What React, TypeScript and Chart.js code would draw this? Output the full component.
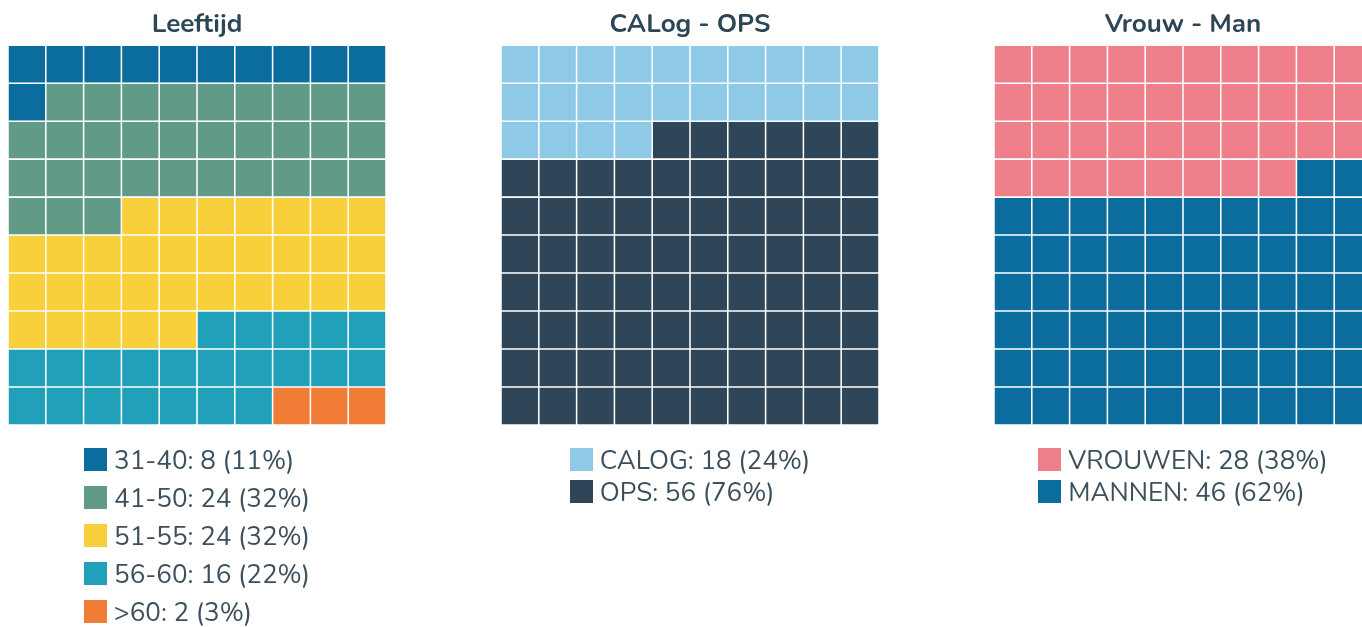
import React, { useEffect, useRef } from "react";
import { Chart, registerables } from "chart.js";

Chart.register(...registerables);

// ---------- data ----------
const ageTitle = "Leeftijd";
const ageLabels = ["31-40", "41-50", "51-55", "56-60", ">60"];
const ageCounts = [8, 24, 24, 16, 2];
const agePercents = [11, 32, 32, 22, 3];
const ageColors = ["#0b6d9e", "#619a86", "#f7d03b", "#21a0ba", "#f07c35"];

const roleTitle = "CALog - OPS";
const roleLabels = ["CALOG", "OPS"];
const roleCounts = [18, 56];
const rolePercents = [24, 76];
const roleColors = ["#8ecae6", "#2e4657"];

const sexTitle = "Vrouw - Man";
const sexLabels = ["VROUWEN", "MANNEN"];
const sexCounts = [28, 46];
const sexPercents = [38, 62];
const sexColors = ["#ef7f8a", "#0b6d9e"];

const GRID_COLS = ["1", "2", "3", "4", "5", "6", "7", "8", "9", "10"];
const GRID_ROWS = 10;

const FONT = "Nunito, Lato, 'Open Sans', sans-serif";
const TEXT_COLOR = "#3c4f5d";
const TITLE_COLOR = "#2d4656";

type WaffleProps = {
  title: string;
  labels: string[];
  counts: number[];
  percents: number[];
  colors: string[];
  legendGap: number;
};

function cellColor(index: number, percents: number[], colors: string[]) {
  let acc = 0;
  for (let i = 0; i < percents.length; i++) {
    acc += percents[i];
    if (index < acc) return colors[i];
  }
  return colors[colors.length - 1];
}

function Waffle({ title, labels, counts, percents, colors, legendGap }: WaffleProps) {
  const ref = useRef<HTMLCanvasElement | null>(null);

  useEffect(() => {
    if (!ref.current) return;
    const datasets = [];
    for (let d = 0; d < GRID_ROWS; d++) {
      const row = GRID_ROWS - 1 - d; // dataset 0 is bottom row
      datasets.push({
        label: "row" + row,
        data: GRID_COLS.map(() => 1),
        backgroundColor: GRID_COLS.map((_, c) => cellColor(row * GRID_COLS.length + c, percents, colors)),
        borderColor: "#ffffff",
        borderWidth: 1.1,
        borderSkipped: false as const,
        barPercentage: 1,
        categoryPercentage: 1,
      });
    }
    const chart = new Chart(ref.current, {
      type: "bar",
      data: { labels: GRID_COLS, datasets },
      options: {
        animation: false,
        responsive: false,
        maintainAspectRatio: false,
        layout: { padding: 0 },
        scales: {
          x: { stacked: true, display: false },
          y: { stacked: true, display: false, min: 0, max: GRID_ROWS },
        },
        plugins: {
          legend: { display: false },
          tooltip: { enabled: false },
          title: {
            display: true,
            text: title,
            color: TITLE_COLOR,
            font: { family: FONT, size: 26, weight: "bold", lineHeight: 1.2 },
            padding: { top: 2, bottom: 4 },
          },
        },
      },
    });
    return () => chart.destroy();
  }, [title, percents, colors]);

  return (
    <div style={{ width: 493, flexShrink: 0 }}>
      <div style={{ width: 378 }}>
        <canvas ref={ref} width={378} height={417} style={{ display: "block", width: 378, height: 417 }} />
        <div style={{ display: "flex", justifyContent: "center", marginTop: 19 }}>
          <div style={{ display: "flex", flexDirection: "column", gap: legendGap }}>
            {labels.map((l, i) => (
              <div key={l} style={{ display: "flex", alignItems: "center", height: 30 }}>
                <span
                  style={{
                    display: "inline-block",
                    width: 23,
                    height: 23,
                    background: colors[i],
                    marginRight: 7,
                    flexShrink: 0,
                  }}
                />
                <span
                  style={{
                    fontFamily: FONT,
                    fontSize: 26,
                    color: TEXT_COLOR,
                    whiteSpace: "nowrap",
                    lineHeight: "30px",
                    position: "relative",
                    top: 2,
                  }}
                >
                  {`${l}: ${counts[i]} (${percents[i]}%)`}
                </span>
              </div>
            ))}
          </div>
        </div>
      </div>
    </div>
  );
}

export default function App() {
  useEffect(() => {
    document.documentElement.style.overflow = "hidden";
    document.body.style.margin = "0";
  }, []);
  return (
    <div style={{ width: "100%", overflow: "hidden", background: "#ffffff" }}>
      <div style={{ display: "flex", width: 1479, padding: "8px 0 0 8px" }}>
        <Waffle title={ageTitle} labels={ageLabels} counts={ageCounts} percents={agePercents} colors={ageColors} legendGap={8} />
        <Waffle title={roleTitle} labels={roleLabels} counts={roleCounts} percents={rolePercents} colors={roleColors} legendGap={2} />
        <Waffle title={sexTitle} labels={sexLabels} counts={sexCounts} percents={sexPercents} colors={sexColors} legendGap={2} />
      </div>
    </div>
  );
}
